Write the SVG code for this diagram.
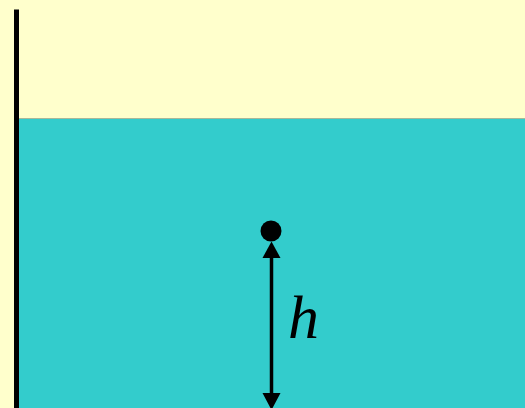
<svg xmlns="http://www.w3.org/2000/svg" width="525" height="408" viewBox="0 0 525 408">
<defs>
<style>
.line{stroke:#000;stroke-width:3.5;fill:none}
.head{fill:#000}
</style>
</defs>
<rect x="0" y="0" width="525" height="408" fill="#FFFFCC"/>
<g id="water">
<rect x="19" y="118" width="506" height="290" fill="#33CCCC"/>
<line x1="19" y1="118.5" x2="525" y2="118.5" stroke="#A8B89A" stroke-width="1"/>
</g>
<g id="wall">
<rect x="14" y="9.5" width="5" height="398.5" fill="#000"/>
</g>
<g id="point">
<circle cx="271" cy="231" r="10.5" fill="#000"/>
</g>
<g id="connectors">
<line class="line" x1="271.5" y1="255" x2="271.5" y2="396"/>
<polygon class="head" points="271.5,241.5 262.5,258 280.5,258"/>
<polygon class="head" points="271.5,410 262.5,393 280.5,393"/>
</g>
<g id="label">
<text x="288" y="338" font-family="Liberation Serif, serif" font-style="italic" font-size="62">h</text>
</g>
</svg>
